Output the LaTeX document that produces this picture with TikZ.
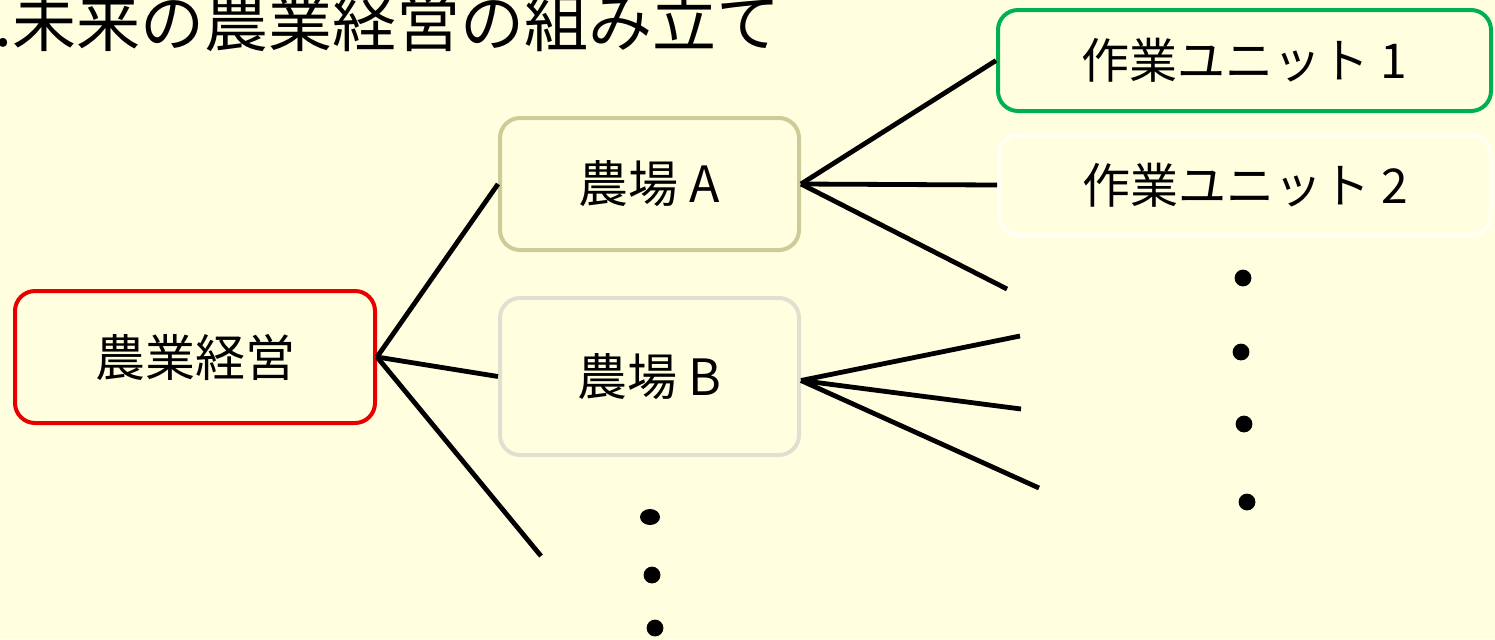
\documentclass[tikz,border=0pt]{standalone}
\usepackage{fontspec}
\setmainfont{Noto Sans CJK JP}
\definecolor{bgyellow}{RGB}{255,255,224}
\definecolor{boxred}{RGB}{230,0,0}
\definecolor{boxkhaki}{RGB}{204,204,153}
\definecolor{boxgray}{RGB}{224,224,208}
\definecolor{boxgreen}{RGB}{0,176,80}
\definecolor{boxwhite}{RGB}{255,255,245}
\tikzset{
  treebox/.style={draw, line width=2pt, rounded corners=10pt, fill=bgyellow,
    inner sep=0pt, font=\fontsize{25pt}{30pt}\selectfont, text=black},
  conn/.style={line width=2.4pt, black},
  dotmark/.style={fill=black, draw=none}
}
\begin{document}
\begin{tikzpicture}[x=0.5pt,y=-0.5pt]
\fill[bgyellow] (0,0) rectangle (1495,639);
\useasboundingbox (0,0) rectangle (1495,639);
% title (cut off at the top edge, as in the reference)
\node[anchor=base west, inner sep=0pt, font=\fontsize{32pt}{36pt}\selectfont] (title) at (-6,46) {.未来の農業経営の組み立て};
% boxes
\node[treebox, draw=boxred, minimum width=180pt, minimum height=66pt] (keiei) at (195,357) {農業経営};
\node[treebox, draw=boxkhaki, minimum width=149.5pt, minimum height=66pt] (farmA) at (649.5,184) {農場 A};
\node[treebox, draw=boxgray, minimum width=149.5pt, minimum height=78.5pt] (farmB) at (649.5,376.5) {農場 B};
\node[treebox, draw=boxgreen, minimum width=246.5pt, minimum height=50.5pt, font=\fontsize{24pt}{30pt}\selectfont] (unit1) at (1244.5,60.5) {作業ユニット 1};
\node[treebox, draw=boxwhite, minimum width=246pt, minimum height=50pt, font=\fontsize{24pt}{30pt}\selectfont] (unit2) at (1245,185) {作業ユニット 2};
% free ends
\coordinate (k3) at (541,556);
\coordinate (a3) at (1007,289);
\coordinate (b1) at (1020,336);
\coordinate (b2) at (1021,409);
\coordinate (b3) at (1039,488);
% connectors
\draw[conn] (keiei.east) -- (farmA.west);
\draw[conn] (keiei.east) -- (farmB.west);
\draw[conn] (keiei.east) -- (k3);
\draw[conn] (farmA.east) -- (unit1.west);
\draw[conn] (farmA.east) -- (unit2.west);
\draw[conn] (farmA.east) -- (a3);
\draw[conn] ([yshift=-2pt]farmB.east) -- (b1);
\draw[conn] ([yshift=-2pt]farmB.east) -- (b2);
\draw[conn] ([yshift=-2pt]farmB.east) -- (b3);
% dots
\fill[dotmark] (1243,278) circle (4.2pt);
\fill[dotmark] (1241,352) circle (4.2pt);
\fill[dotmark] (1244,424) circle (4.2pt);
\fill[dotmark] (1247,502) circle (4.2pt);
\fill[dotmark] (650,517) ellipse (5pt and 4pt);
\fill[dotmark] (652,575) circle (4.2pt);
\fill[dotmark] (655,628) circle (4.2pt);
\end{tikzpicture}
\end{document}
